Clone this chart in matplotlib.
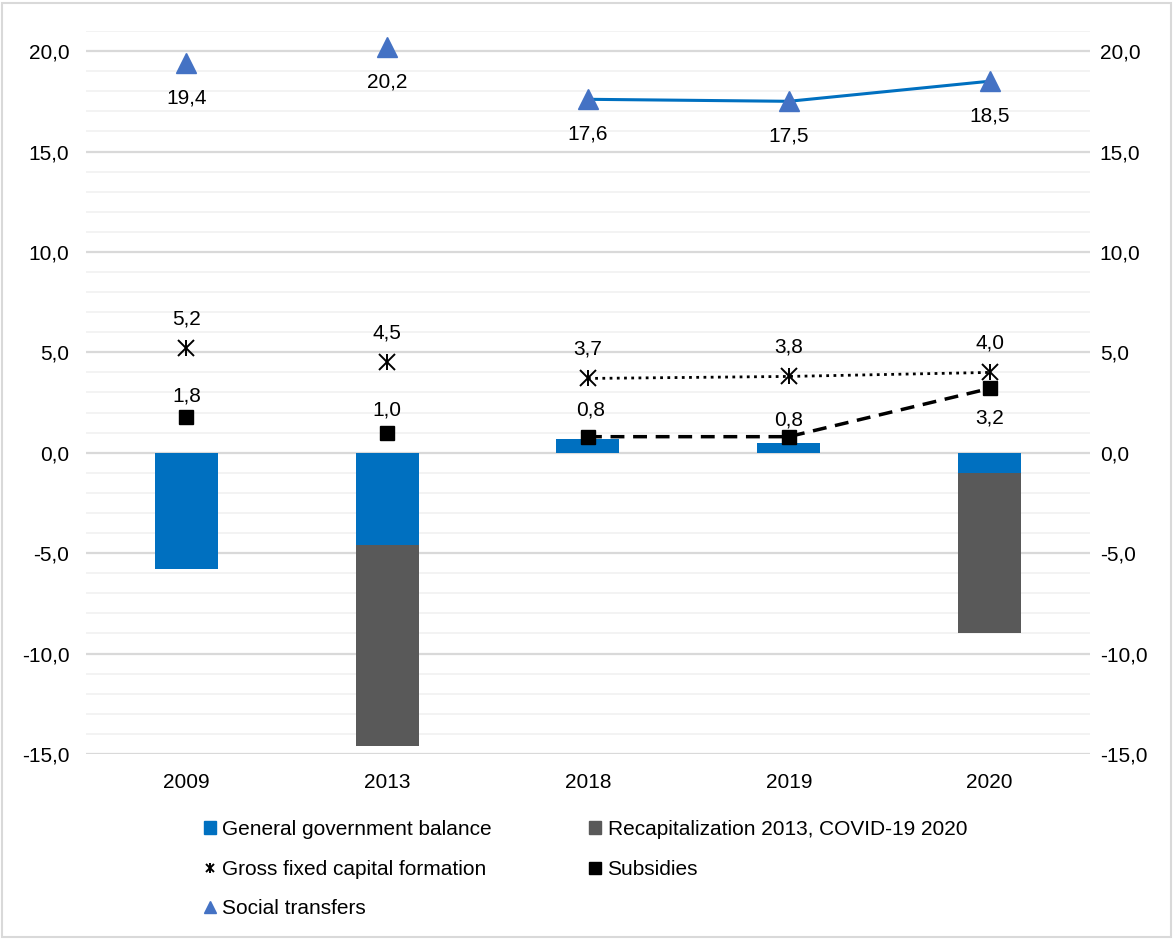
import numpy as np
import matplotlib
matplotlib.use("Agg")
import matplotlib.pyplot as plt
from matplotlib.lines import Line2D
from matplotlib.patches import Patch, Rectangle
from matplotlib.legend_handler import HandlerTuple

plt.rcParams['font.family'] = ['Liberation Sans', 'DejaVu Sans']

years = ['2009', '2013', '2018', '2019', '2020']
gov_balance = [-5.8, -4.6, 0.7, 0.5, -1.0]
recap_covid = [0.0, -10.0, 0.0, 0.0, -8.0]
gfcf = [5.2, 4.5, 3.7, 3.8, 4.0]
subsidies = [1.8, 1.0, 0.8, 0.8, 3.2]
social = [19.4, 20.2, 17.6, 17.5, 18.5]
yticks = [-15, -10, -5, 0, 5, 10, 15, 20]

BLUE = '#0070C0'
GREY = '#595959'
TRI = '#4472C4'
FS = 15

def fmt(v):
    return f"{v:.1f}".replace('.', ',')

fig = plt.figure(figsize=(11.73, 9.40), dpi=100)
ax = fig.add_axes([0.0733, 0.1979, 0.8559, 0.7691])
x = np.arange(len(years))

# minor and major gridlines
for v in range(-15, 22):
    major = (v % 5 == 0)
    ax.axhline(v, color='#D9D9D9' if major else '#F2F2F2',
               lw=1.6 if major else 1.3, zorder=0)

w = 0.314
ax.bar(x, gov_balance, width=w, color=BLUE, zorder=2)
recap = np.array(recap_covid)
ax.bar(x, recap, width=w, bottom=np.minimum(gov_balance, 0), color=GREY, zorder=2)

# connecting lines for the last three years
ax.plot(x[2:], social[2:], color=BLUE, lw=2.2, zorder=3)
ax.plot(x[2:], gfcf[2:], color='black', lw=2, ls=(0, (1, 1.6)), zorder=3)
ax.plot(x[2:], subsidies[2:], color='black', lw=2.5, ls=(0, (4, 2.5)), zorder=3)

ax.plot(x, social, ls='none', marker='^', ms=15, color=TRI, zorder=4)
ax.plot(x, gfcf, ls='none', marker='x', ms=11, mew=1.4, color='black', zorder=4)
ax.plot(x, gfcf, ls='none', marker='|', ms=11, mew=1.4, color='black', zorder=4)
ax.plot(x, subsidies, ls='none', marker='s', ms=10, color='black', zorder=4)

# data labels (offsets in points)
for i, v in enumerate(social):
    ax.annotate(fmt(v), (i, v), xytext=(0, -25), textcoords='offset points',
                ha='center', va='center', fontsize=FS)
for i, v in enumerate(gfcf):
    ax.annotate(fmt(v), (i, v), xytext=(0, 21), textcoords='offset points',
                ha='center', va='center', fontsize=FS)
sub_off = [15, 16, 19, 12, -21]
for i, v in enumerate(subsidies):
    if i == 2:
        ax.annotate(fmt(v), (i, v), xytext=(2, sub_off[i]), textcoords='offset points',
                    ha='center', va='center', fontsize=FS,
                    arrowprops=dict(arrowstyle='-', color='#A6A6A6', lw=1,
                                    shrinkA=7, shrinkB=2))
    else:
        ax.annotate(fmt(v), (i, v), xytext=(0, sub_off[i]), textcoords='offset points',
                    ha='center', va='center', fontsize=FS)

ax.set_xlim(-0.5, 4.5)
ax.set_ylim(-15, 21)
ax.set_xticks(x)
ax.set_xticklabels(years, fontsize=FS)
ax.set_yticks(yticks)
ax.set_yticklabels([fmt(v) for v in yticks], fontsize=FS)
ax.tick_params(length=0, pad=12)
ax.tick_params(axis='x', pad=14)
for s in ax.spines.values():
    s.set_visible(False)

ax2 = ax.twinx()
ax2.set_ylim(-15, 21)
ax2.set_yticks(yticks)
ax2.set_yticklabels([fmt(v) for v in yticks], fontsize=FS)
ax2.tick_params(length=0, pad=7)
for s in ax2.spines.values():
    s.set_visible(False)

# legend: entries listed column by column
h_ggb = Patch(color=BLUE)
h_rec = Patch(color=GREY)
h_gf = (Line2D([], [], ls='none', marker='x', ms=6, mew=1.4, color='black'),
        Line2D([], [], ls='none', marker='|', ms=7, mew=1.4, color='black'))
h_sub = Line2D([], [], ls='none', marker='s', ms=8, color='black')
h_soc = Line2D([], [], ls='none', marker='^', ms=9, color=TRI)
handles = [h_ggb, h_gf, h_soc, h_rec, h_sub]
labels = ['General government balance', 'Gross fixed capital formation',
          'Social transfers', 'Recapitalization 2013, COVID-19 2020', 'Subsidies']
fig.legend(handles, labels, ncol=2, loc='upper left', bbox_to_anchor=(0.1735, 0.128),
           frameon=False, fontsize=FS, handlelength=0.6, handleheight=0.6,
           handletextpad=0.3, columnspacing=4.65, labelspacing=1.0,
           borderaxespad=0, borderpad=0,
           handler_map={tuple: HandlerTuple(ndivide=1, pad=0)})

fig.patches.append(Rectangle((0.002, 0.003), 0.996, 0.994, transform=fig.transFigure,
                             fill=False, ec='#D9D9D9', lw=1.5))

fig.savefig('out.png', dpi=100)
